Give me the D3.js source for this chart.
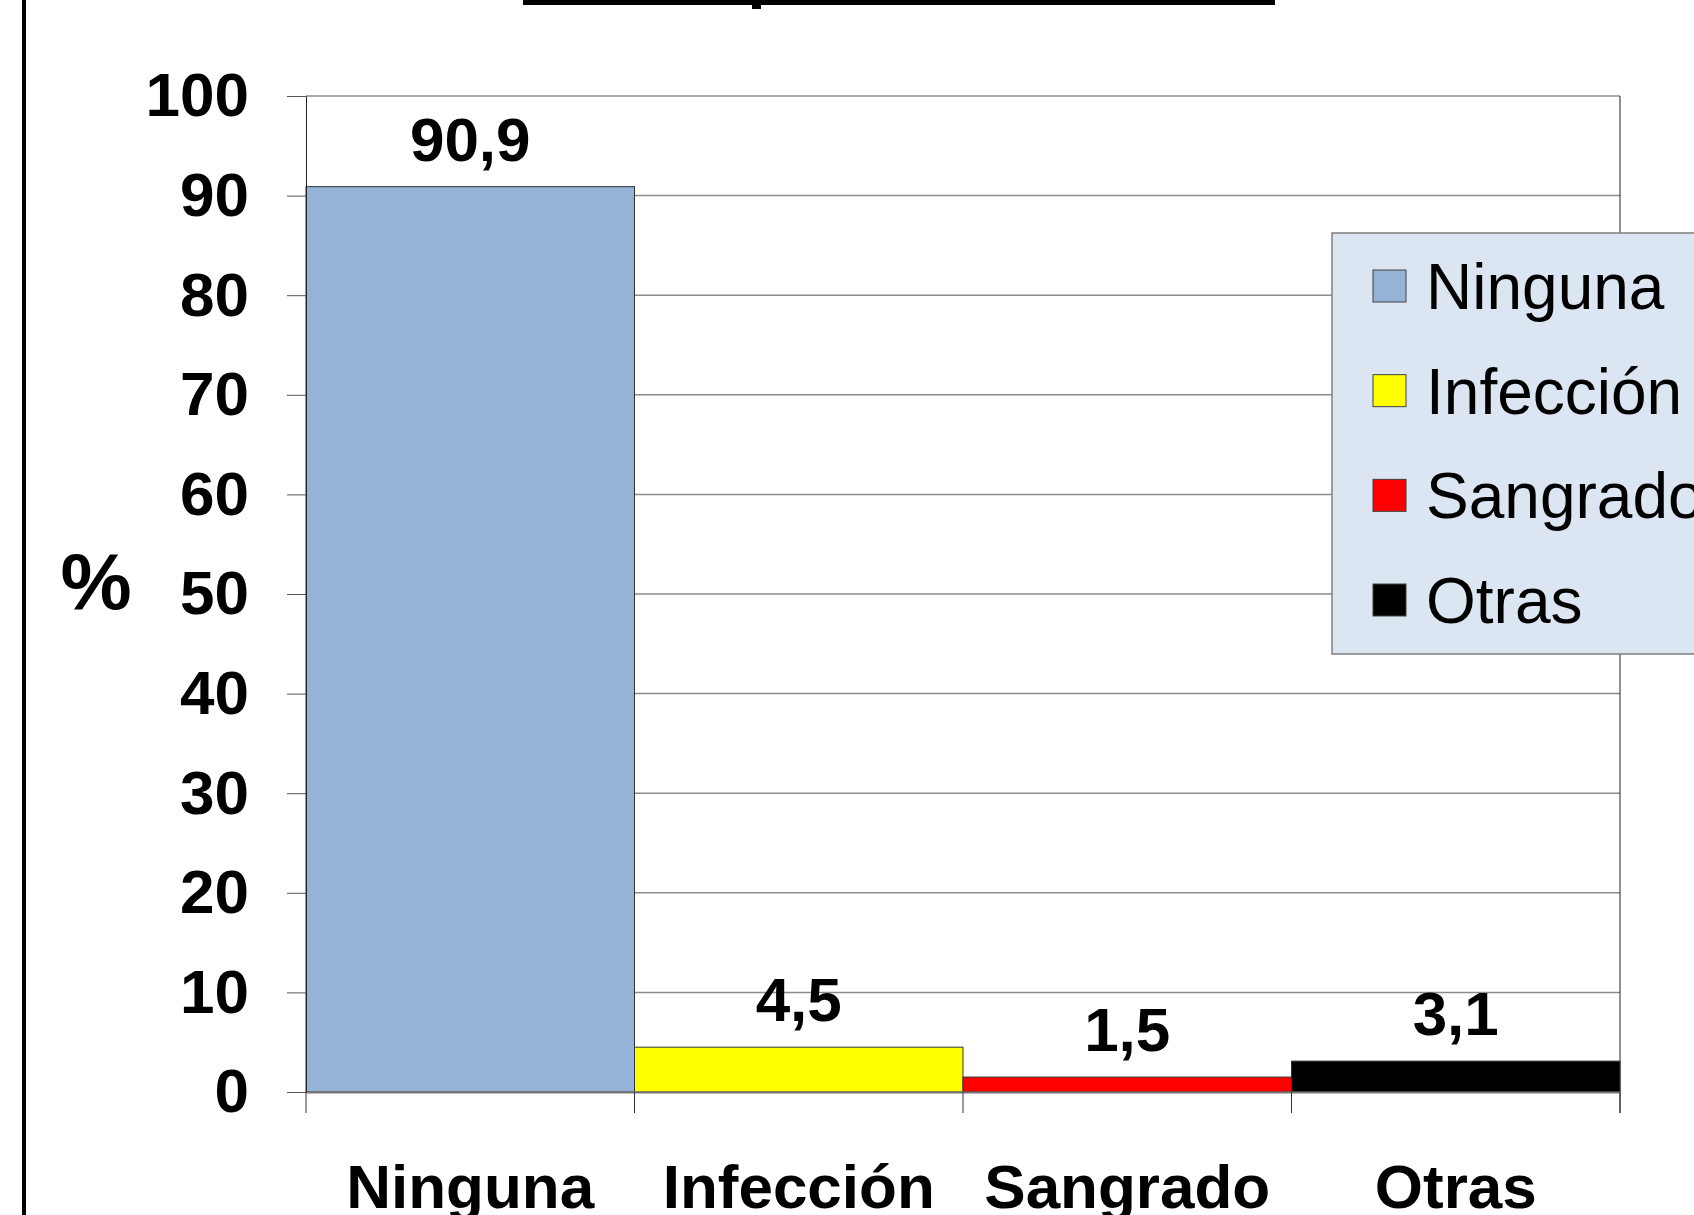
<!DOCTYPE html>
<html>
<head>
<meta charset="utf-8">
<script src="https://cdn.jsdelivr.net/npm/d3@7"></script>
<style>
  body { margin: 0; background: #fff; }
  svg { display: block; }
  text { font-family: "Liberation Sans", Arial, sans-serif; }
</style>
</head>
<body>
<div id="chart"></div>
<script>
// ---- data ----
const categories = ["Ninguna", "Infección", "Sangrado", "Otras"];
const values = [90.9, 4.5, 1.5, 3.1];
const valueLabels = ["90,9", "4,5", "1,5", "3,1"];
const colors = ["#95b3d7", "#ffff00", "#ff0000", "#000000"];
const yTicks = [0, 10, 20, 30, 40, 50, 60, 70, 80, 90, 100];

const W = 1694, H = 1215;
const plot = { left: 306, right: 1620, top: 96, bottom: 1092 };

const svg = d3.select("#chart").append("svg")
    .attr("width", W).attr("height", H);

svg.append("rect").attr("width", W).attr("height", H).attr("fill", "#fff");

// left frame line and cut-off title underline
svg.append("rect").attr("x", 22).attr("y", 0).attr("width", 4).attr("height", H).attr("fill", "#000");
svg.append("rect").attr("x", 523).attr("y", 0).attr("width", 752).attr("height", 5).attr("fill", "#000");
svg.append("rect").attr("x", 752).attr("y", 0).attr("width", 9).attr("height", 9).attr("fill", "#000");

const x = d3.scaleBand().domain(categories).range([plot.left, plot.right]).padding(0);
const y = d3.scaleLinear().domain([0, 100]).range([plot.bottom, plot.top]);

// gridlines
svg.append("g").selectAll("line")
    .data(yTicks.filter(d => d > 0))
    .join("line")
    .attr("x1", plot.left).attr("x2", plot.right)
    .attr("y1", d => y(d)).attr("y2", d => y(d))
    .attr("stroke", "#8c8c8c").attr("stroke-width", 1.5);

// right border
svg.append("line")
    .attr("x1", plot.right).attr("x2", plot.right)
    .attr("y1", plot.top).attr("y2", plot.bottom + 21)
    .attr("stroke", "#222").attr("stroke-width", 1);

// bars
svg.append("g").selectAll("rect")
    .data(values)
    .join("rect")
    .attr("x", (d, i) => x(categories[i]))
    .attr("y", d => y(d))
    .attr("width", x.bandwidth())
    .attr("height", d => y(0) - y(d))
    .attr("fill", (d, i) => colors[i])
    .attr("stroke", "#333").attr("stroke-width", 1);

// y axis
const yAxis = svg.append("g")
    .attr("transform", `translate(${plot.left},0)`)
    .call(d3.axisLeft(y).tickValues(yTicks).tickSize(19).tickPadding(38).tickFormat(d3.format("d")));
yAxis.select(".domain").attr("stroke", "#222");
yAxis.selectAll(".tick line").attr("stroke", "#555");
yAxis.selectAll(".tick text")
    .attr("font-size", 62).attr("font-weight", "bold").attr("fill", "#000")
    .attr("font-family", "'Liberation Sans', Arial, sans-serif");

// x axis
const xAxis = svg.append("g")
    .attr("transform", `translate(0,${plot.bottom})`)
    .call(d3.axisBottom(x).tickSize(0).tickFormat(""));
xAxis.select(".domain").attr("stroke", "#777").attr("stroke-width", 2);
xAxis.selectAll(".tick").remove();

// x category separators
svg.append("g").selectAll("line")
    .data(categories.concat(["_end"]))
    .join("line")
    .attr("x1", (d, i) => i < categories.length ? x(d) : plot.right)
    .attr("x2", (d, i) => i < categories.length ? x(d) : plot.right)
    .attr("y1", plot.bottom).attr("y2", plot.bottom + 21)
    .attr("stroke", "#333").attr("stroke-width", 1);

// x labels
svg.append("g").selectAll("text")
    .data(categories)
    .join("text")
    .attr("x", d => x(d) + x.bandwidth() / 2)
    .attr("y", 1208)
    .attr("text-anchor", "middle")
    .attr("font-size", 62).attr("font-weight", "bold")
    .text(d => d);

// value labels
svg.append("g").selectAll("text")
    .data(values)
    .join("text")
    .attr("x", (d, i) => x(categories[i]) + x.bandwidth() / 2)
    .attr("y", d => y(d) - 26)
    .attr("text-anchor", "middle")
    .attr("font-size", 62).attr("font-weight", "bold")
    .text((d, i) => valueLabels[i]);

// y title
svg.append("text")
    .attr("x", 96).attr("y", 609)
    .attr("text-anchor", "middle")
    .attr("font-size", 80).attr("font-weight", "bold")
    .text("%");

// legend
const legend = svg.append("g");
legend.append("rect")
    .attr("x", 1332).attr("y", 233).attr("width", 420).attr("height", 421)
    .attr("fill", "#dce6f2").attr("stroke", "#7f7f7f").attr("stroke-width", 1.5);

const rowY = d3.scalePoint().domain(categories).range([286, 600]);
const items = legend.selectAll("g.item")
    .data(categories)
    .join("g").attr("class", "item")
    .attr("transform", d => `translate(0,${rowY(d)})`);
items.append("rect")
    .attr("x", 1373).attr("y", -16).attr("width", 33).attr("height", 32)
    .attr("fill", (d, i) => colors[i]).attr("stroke", "#404040").attr("stroke-width", 1);
items.append("text")
    .attr("x", 1426).attr("y", 23)
    .attr("font-size", 64)
    .text(d => d);
</script>
</body>
</html>
